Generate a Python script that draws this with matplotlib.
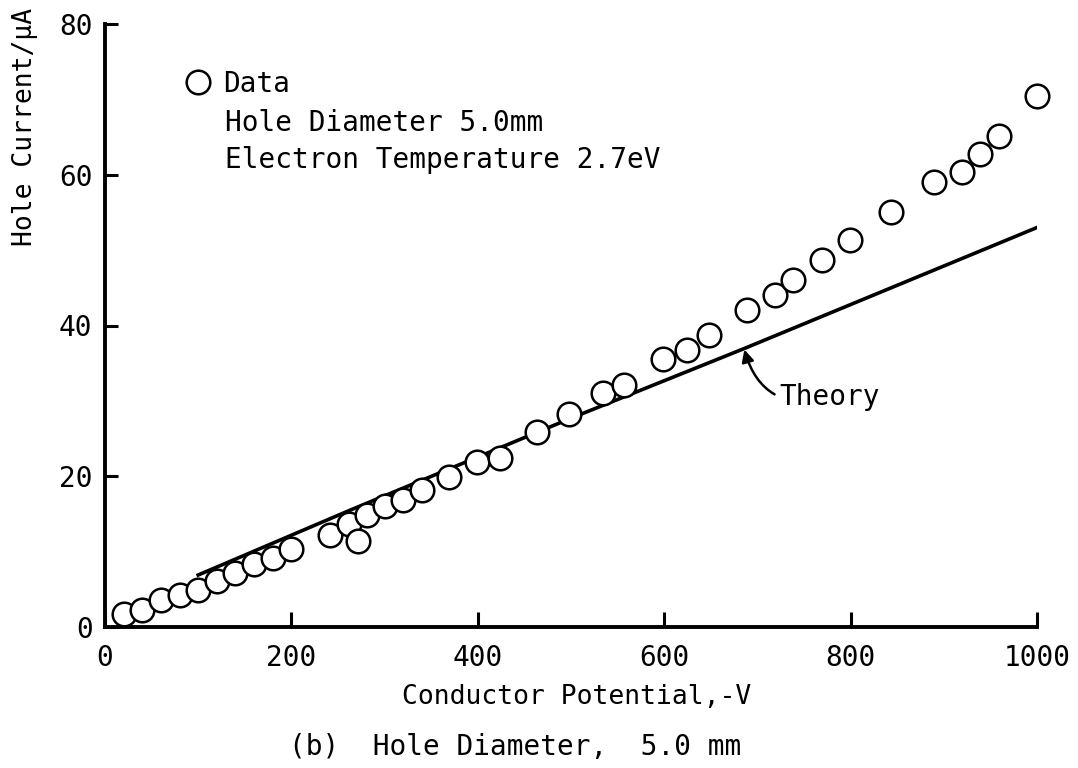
"""Hole current vs conductor potential, 5.0 mm hole (data vs theory)."""

import matplotlib
matplotlib.use("Agg")
import matplotlib.pyplot as plt

potential = [20, 40, 60, 80, 100, 120, 140, 160, 180, 200, 241, 262, 271, 281,
             300, 320, 340, 369, 399, 424, 464, 498, 534, 557, 599, 624, 648,
             689, 719, 738, 769, 799, 843, 890, 920, 939, 959, 1000]
current = [1.7, 2.3, 3.6, 4.2, 4.9, 6.1, 7.1, 8.4, 9.2, 10.4, 12.2, 13.7, 11.4,
           14.9, 16.0, 16.8, 18.2, 19.9, 21.9, 22.4, 25.9, 28.2, 31.0, 32.1,
           35.6, 36.8, 38.7, 42.0, 44.1, 46.1, 48.7, 51.3, 55.1, 59.1, 60.4,
           62.8, 65.1, 70.4]

# theory curve
theory_x = [100, 263, 500, 685, 1000]
theory_y = [6.9, 15.5, 27.7, 36.9, 53.0]

x_ticks = [0, 200, 400, 600, 800, 1000]
y_ticks = [0, 20, 40, 60, 80]

# lettering-style text: a mono face matches the wide, even spacing best
plt.rcParams["font.family"] = "DejaVu Sans Mono"

fig = plt.figure(figsize=(10.78, 7.68), dpi=100)
ax = fig.add_axes([105 / 1078, 141 / 768, 932 / 1078, 603 / 768])

ax.plot(theory_x, theory_y, color="black", linewidth=2.6, zorder=2)
ax.plot(potential, current, linestyle="none", marker="o", markersize=17,
        markerfacecolor="white", markeredgecolor="black", markeredgewidth=1.8,
        clip_on=False, zorder=3, label="Data")

ax.set_xlim(0, 1000)
ax.set_ylim(0, 80)
ax.set_xticks(x_ticks)
ax.set_yticks(y_ticks)
ax.tick_params(axis="both", direction="in", width=2.2, labelsize=20)
ax.tick_params(axis="x", length=11, pad=12)
ax.tick_params(axis="y", length=9.5, pad=9)
for side in ("top", "right"):
    ax.spines[side].set_visible(False)
for side in ("left", "bottom"):
    ax.spines[side].set_linewidth(2.8)

ax.legend(loc="center left", bbox_to_anchor=(188 / 1078, 1 - 84 / 768),
          bbox_transform=fig.transFigure, frameon=False, fontsize=20,
          handlelength=0.7, handletextpad=0.55, borderpad=0, borderaxespad=0)
ax.text(129, 66.8, "Hole Diameter 5.0mm", fontsize=20, va="center", ha="left")
ax.text(129, 61.9, "Electron Temperature 2.7eV", fontsize=20, va="center",
        ha="left")

ax.annotate("Theory", xy=(686, 36.8), xytext=(724, 30.5), fontsize=20,
            va="center", ha="left",
            arrowprops=dict(arrowstyle="-|>", color="black", lw=1.8,
                            connectionstyle="arc3,rad=-0.5", shrinkA=2,
                            shrinkB=0, mutation_scale=18))

# y label sits just inside the top edge so it is not cut off
fig.text(25 / 1078, 1 - 246 / 768, "Hole Current/\u03bcA", rotation=90,
         fontsize=19, ha="center", va="bottom")
fig.text(577 / 1078, 1 - 697 / 768, "Conductor Potential,-V", fontsize=19,
         ha="center", va="center")
fig.text(515 / 1078, 1 - 747 / 768, "(b)  Hole Diameter,  5.0 mm",
         fontsize=20, ha="center", va="center")

fig.savefig("out.png", dpi=100)
